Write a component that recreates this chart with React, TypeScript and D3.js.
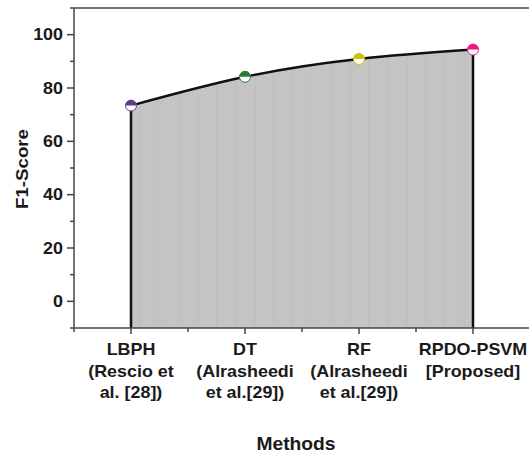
import React from "react";
import * as d3 from "d3";

const categories = [
  ["LBPH", "(Rescio et", "al. [28])"],
  ["DT", "(Alrasheedi", "et al.[29])"],
  ["RF", "(Alrasheedi", "et al.[29])"],
  ["RPDO-PSVM", "[Proposed]"],
];
const f1Values = [73.4, 84.2, 90.9, 94.4];
const markerColors = ["#5b3f8c", "#2f7a33", "#c9c40a", "#f0157f"];
const yMajorTicks = [0, 20, 40, 60, 80, 100];
const yMinorTicks = [-10, 10, 30, 50, 70, 90, 110];

const W = 529;
const H = 458;
const left = 74;
const top = 8;
const bottom = 328;

export default function App() {
  const x = d3.scaleLinear().domain([-0.5, 3.5]).range([left, 530]);
  const y = d3.scaleLinear().domain([-10, 110]).range([bottom, top]);
  const pts: [number, number][] = f1Values.map((v, i) => [x(i), y(v)]);
  const line = d3.line().curve(d3.curveNatural)(pts) as string;
  const area = d3
    .area<[number, number]>()
    .x((d) => d[0])
    .y0(y(-10))
    .y1((d) => d[1])
    .curve(d3.curveNatural)(pts) as string;
  const font = "Arial, 'Liberation Sans', sans-serif";
  const xMinor = [-0.5, 0.5, 1.5, 2.5];
  const stripes = d3.range(x(0) + 10, x(3), 19);
  return (
    <svg
      width={W}
      height={H}
      style={{ position: "absolute", left: 0, top: 0, background: "#fff" }}
      fontFamily={font}
      fontWeight="bold"
    >
      <defs>
        <clipPath id="areaClip">
          <path d={area} />
        </clipPath>
      </defs>
      <path d={area} fill="#c4c4c4" />
      <g clipPath="url(#areaClip)">
        {stripes.map((s, i) => (
          <line key={i} x1={s} x2={s} y1={top} y2={bottom} stroke="#bdbdbd" strokeWidth={1} />
        ))}
      </g>
      <line x1={x(0)} x2={x(0)} y1={y(-10)} y2={pts[0][1]} stroke="#111" strokeWidth={2.5} />
      <line x1={x(3)} x2={x(3)} y1={y(-10)} y2={pts[3][1]} stroke="#111" strokeWidth={2.5} />
      <path d={line} fill="none" stroke="#111" strokeWidth={2.5} />
      {/* frame */}
      <line x1={left} x2={W} y1={top} y2={top} stroke="#444" strokeWidth={1.5} />
      <line x1={left} x2={left} y1={top} y2={bottom} stroke="#444" strokeWidth={1.5} />
      <line x1={left} x2={W} y1={bottom} y2={bottom} stroke="#444" strokeWidth={1.5} />
      {/* y ticks */}
      {yMajorTicks.map((t) => (
        <g key={t}>
          <line x1={left - 7} x2={left} y1={y(t)} y2={y(t)} stroke="#444" strokeWidth={1.5} />
          <text
            transform={`translate(${left - 11},${y(t) + 5.5}) scale(1.12,1)`}
            textAnchor="end"
            fontSize={16}
            fill="#1a1a1a"
          >
            {t}
          </text>
        </g>
      ))}
      {yMinorTicks.map((t) => (
        <line key={t} x1={left - 4} x2={left} y1={y(t)} y2={y(t)} stroke="#444" strokeWidth={1.5} />
      ))}
      {/* x ticks */}
      {categories.map((_, i) => (
        <line key={i} x1={x(i)} x2={x(i)} y1={bottom} y2={bottom + 6} stroke="#444" strokeWidth={1.5} />
      ))}
      {xMinor.map((t) => (
        <line key={t} x1={x(t)} x2={x(t)} y1={bottom} y2={bottom + 4} stroke="#444" strokeWidth={1.5} />
      ))}
      {categories.map((lines, i) => (
        <g key={i}>
          {lines.map((l, j) => (
            <text
              key={j}
              transform={`translate(${x(i)},${355 + j * 21.5}) scale(1.12,1)`}
              textAnchor="middle"
              fontSize={16}
              fill="#1a1a1a"
            >
              {l}
            </text>
          ))}
        </g>
      ))}
      {/* markers */}
      {pts.map((p, i) => {
        const r = 5.5;
        return (
          <g key={i}>
            <circle cx={p[0]} cy={p[1]} r={r} fill="#fff" stroke={markerColors[i]} strokeWidth={1} />
            <path
              d={`M${p[0] - r},${p[1]} A${r},${r} 0 0 1 ${p[0] + r},${p[1]} Z`}
              fill={markerColors[i]}
            />
          </g>
        );
      })}
      <text
        transform={`translate(296,450) scale(1.1,1)`}
        textAnchor="middle"
        fontSize={17.5}
        fill="#1a1a1a"
      >
        Methods
      </text>
      <text
        transform={`translate(28,169) rotate(-90) scale(1.1,1)`}
        textAnchor="middle"
        fontSize={17}
        fill="#1a1a1a"
      >
        F1-Score
      </text>
    </svg>
  );
}
